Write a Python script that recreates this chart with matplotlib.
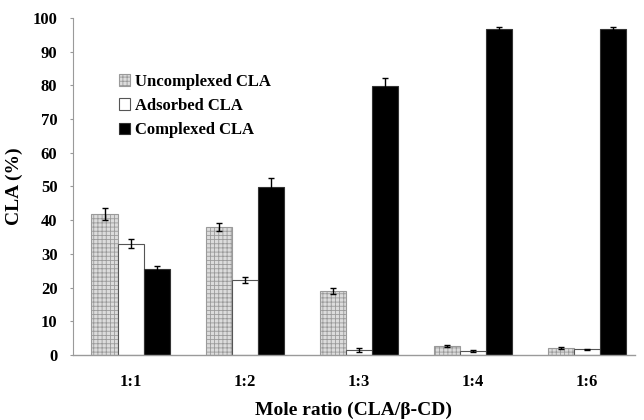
import matplotlib
matplotlib.use("Agg")
import matplotlib.pyplot as plt
import numpy as np

ratios = ["1:1", "1:2", "1:3", "1:4", "1:6"]
uncomplexed = [41.8, 38.0, 19.0, 2.5, 2.1]
uncomplexed_err = [1.8, 1.3, 1.0, 0.3, 0.3]
adsorbed = [33.0, 22.2, 1.5, 1.2, 1.7]
adsorbed_err = [1.4, 1.0, 0.5, 0.2, 0.2]
complexed = [25.5, 49.9, 79.8, 96.7, 96.8]
complexed_err = [0.8, 2.6, 2.5, 0.5, 0.5]

plt.rcParams['font.family'] = ['Liberation Serif', 'DejaVu Serif']
plt.rcParams['font.weight'] = 'bold'
plt.rcParams['hatch.color'] = '#8a8a8a'
plt.rcParams['hatch.linewidth'] = 0.6

fig = plt.figure(figsize=(6.44, 4.2), dpi=100)
ax = fig.add_axes([0.113, 0.155, 0.873, 0.802])

x = np.arange(len(ratios))
w = 0.23
ek = dict(ecolor='black', elinewidth=1.0, capsize=2.5, capthick=1.0)
ax.bar(x - w, uncomplexed, w, yerr=uncomplexed_err, color='#dcdcdc', edgecolor='#9a9a9a',
       hatch='++++', linewidth=0.8, label='Uncomplexed CLA', error_kw=ek)
ax.bar(x, adsorbed, w, yerr=adsorbed_err, color='white', edgecolor='#555555',
       linewidth=0.8, label='Adsorbed CLA', error_kw=ek)
ax.bar(x + w, complexed, w, yerr=complexed_err, color='black', edgecolor='#333333',
       linewidth=0.8, label='Complexed CLA', error_kw=ek)

ax.set_xlim(-0.509, 4.42)
ax.set_ylim(0, 100)
ax.set_yticks(np.arange(0, 101, 10))
ax.set_xticks(x)
ax.set_xticklabels(ratios, fontsize=12, fontweight='bold')
ax.tick_params(axis='x', length=0, pad=14)
ax.tick_params(axis='y', length=2, color='#999999', labelsize=12, pad=9)
for lab in ax.get_yticklabels():
    lab.set_fontweight('bold')
for s in ['top', 'right']:
    ax.spines[s].set_visible(False)
ax.spines['left'].set_color('#9a9a9a')
ax.spines['left'].set_linestyle((0, (6, 1)))
ax.spines['left'].set_linewidth(0.8)
ax.spines['bottom'].set_color('#9a9a9a')
ax.spines['bottom'].set_linewidth(1.0)

ax.set_ylabel('CLA (%)', fontsize=14, fontweight='bold', labelpad=7)
ax.set_xlabel('Mole ratio (CLA/β-CD)', fontsize=14, fontweight='bold', labelpad=8)

leg = ax.legend(loc='upper left', bbox_to_anchor=(0.07, 0.855), frameon=False,
                fontsize=12, handlelength=0.7, handleheight=0.7, handletextpad=0.3,
                labelspacing=0.5, borderaxespad=0)
for t in leg.get_texts():
    t.set_fontweight('bold')

fig.savefig('out.png', dpi=100)
